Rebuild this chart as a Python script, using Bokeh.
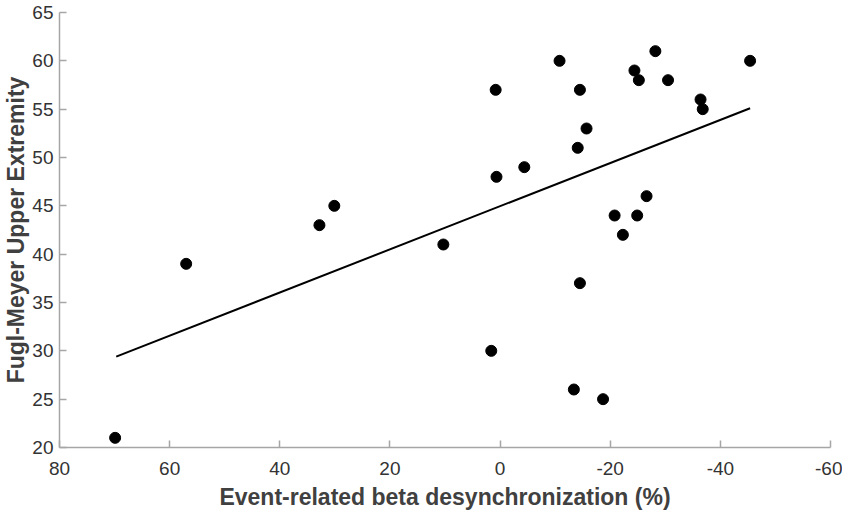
from bokeh.plotting import figure
from bokeh.models import Range1d, FixedTicker, ColumnDataSource, CustomJSTickFormatter
from bokeh.embed import file_html
from bokeh.resources import INLINE

# Data
erd_beta = [69.9, 57.0, 32.8, 30.1, 10.3, 1.6, 0.8, 0.65, -4.4, -10.8,
            -14.5, -14.1, -15.7, -14.5, -13.4, -18.7, -20.8, -22.3, -24.9,
            -26.6, -24.4, -25.2, -28.2, -30.5, -36.4, -36.8, -45.4]
fugl_meyer = [21, 39, 43, 45, 41, 30, 57, 48, 49, 60,
              57, 51, 53, 37, 26, 25, 44, 42, 44,
              46, 59, 58, 61, 58, 56, 55, 60]

# Regression line endpoints
fit_x = [69.7, -45.4]
fit_y = [29.4, 55.1]

x_ticks = [80, 60, 40, 20, 0, -20, -40, -60]
y_ticks = [20, 25, 30, 35, 40, 45, 50, 55, 60, 65]

FONT = "Liberation Sans"

p = figure(frame_width=771, frame_height=435,
           x_range=Range1d(80, -60), y_range=Range1d(20, 65),
           output_backend="svg", toolbar_location=None,
           min_border_left=50, min_border_right=12,
           min_border_top=12, min_border_bottom=60)

p.outline_line_color = None
p.xgrid.visible = False
p.ygrid.visible = False
p.background_fill_color = "white"
p.border_fill_color = "white"

src = ColumnDataSource(dict(x=erd_beta, y=fugl_meyer))
p.line(fit_x, fit_y, line_color="black", line_width=2)
p.scatter("x", "y", source=src, size=11, fill_color="black", line_color="black")

for ax, ticks in ((p.xaxis[0], x_ticks), (p.yaxis[0], y_ticks)):
    ax.ticker = FixedTicker(ticks=ticks)
    ax.formatter = CustomJSTickFormatter(code="return tick.toString();")
    ax.minor_tick_line_color = None
    ax.major_tick_in = 7
    ax.major_tick_out = 0
    ax.axis_line_color = "#a6a6a6"
    ax.major_tick_line_color = "#a6a6a6"
    ax.axis_line_width = 1.5
    ax.major_tick_line_width = 1.5
    ax.major_label_text_font = FONT
    ax.major_label_text_font_size = "19px"
    ax.major_label_text_color = "#333333"
    ax.axis_label_text_font = FONT
    ax.axis_label_text_font_size = "23px"
    ax.axis_label_text_font_style = "bold"
    ax.axis_label_text_color = "#404040"

p.xaxis.axis_label = "Event-related beta desynchronization (%)"
p.yaxis.axis_label = "Fugl-Meyer Upper Extremity"
p.xaxis.major_label_standoff = 14
p.xaxis.axis_label_standoff = 6
p.yaxis.major_label_standoff = 6
p.yaxis.axis_label_standoff = 0

open("out.html", "w").write(file_html(p, INLINE))
